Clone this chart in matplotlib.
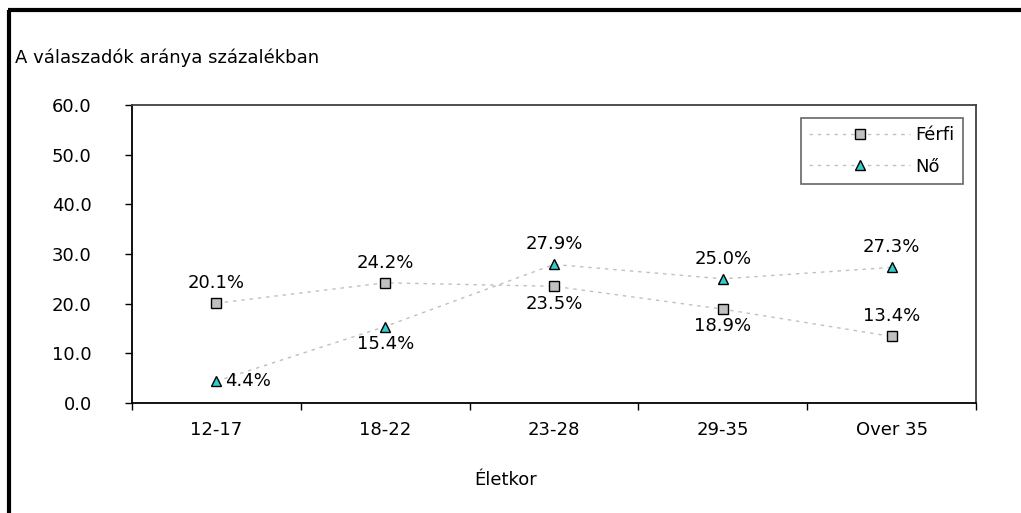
import matplotlib
matplotlib.use("Agg")
import matplotlib.pyplot as plt
from matplotlib.lines import Line2D

categories = ["12-17", "18-22", "23-28", "29-35", "Over 35"]
ferfi = [20.1, 24.2, 23.5, 18.9, 13.4]
no = [4.4, 15.4, 27.9, 25.0, 27.3]
yticks = [0, 10, 20, 30, 40, 50, 60]
ferfi_pos = ["above", "above", "below", "below", "above"]
no_pos = ["right", "below", "above", "above", "above"]

plt.rcParams['font.family'] = ['DejaVu Sans']
W, H = 1021, 513
fig = plt.figure(figsize=(W / 100, H / 100), dpi=100)
ax = fig.add_axes([132 / W, 1 - 403 / H, (976 - 132) / W, (403 - 105) / H])

x = list(range(len(categories)))
ax.plot(x, ferfi, linestyle=(0, (2.5, 3.5)), color="#c0c0c0", lw=1.0,
        marker="s", markersize=7, markerfacecolor="#c0c0c0",
        markeredgecolor="#000000", markeredgewidth=1.0, label="Férfi")
ax.plot(x, no, linestyle=(0, (2.5, 3.5)), color="#c0c0c0", lw=1.0,
        marker="^", markersize=7, markerfacecolor="#33cccc",
        markeredgecolor="#000000", markeredgewidth=1.0, label="Nő")

fs = 13
def annotate(xs, ys, poss):
    for xi, yi, p in zip(xs, ys, poss):
        txt = f"{yi:.1f}%"
        if p == "above":
            ax.annotate(txt, (xi, yi), xytext=(0, 8), textcoords="offset points",
                        ha="center", va="bottom", fontsize=fs)
        elif p == "below":
            ax.annotate(txt, (xi, yi), xytext=(0, -6), textcoords="offset points",
                        ha="center", va="top", fontsize=fs)
        else:
            ax.annotate(txt, (xi, yi), xytext=(6, 0), textcoords="offset points",
                        ha="left", va="center", fontsize=fs)

annotate(x, ferfi, ferfi_pos)
annotate(x, no, no_pos)

ax.set_xlim(-0.5, len(categories) - 0.5)
ax.set_ylim(0, 60)
ax.set_yticks(yticks)
ax.set_yticklabels([f"{v:.1f}" for v in yticks], fontsize=fs)
ax.set_xticks(x)
ax.set_xticklabels(categories, fontsize=fs)
ax.set_xticks([i - 0.5 for i in range(len(categories) + 1)], minor=True)
ax.tick_params(axis="x", which="major", length=0, pad=13)
ax.tick_params(axis="x", which="minor", length=5, width=1, direction="out")
ax.tick_params(axis="y", which="major", length=5, width=1, direction="out", pad=24)

for s in ["left", "bottom"]:
    ax.spines[s].set_color("black")
    ax.spines[s].set_linewidth(1.3)
for s in ["top", "right"]:
    ax.spines[s].set_color("#404040")
    ax.spines[s].set_linewidth(1.3)

leg = ax.legend(loc="upper right", bbox_to_anchor=((963 - 132) / (976 - 132), 1 - (118 - 105) / (403 - 105)),
                fontsize=fs, frameon=True, fancybox=False, edgecolor="#404040",
                borderpad=0.45, handlelength=5.6, labelspacing=0.75, handletextpad=0.3,
                borderaxespad=0)
leg.get_frame().set_linewidth(1.2)

fig.text(15 / W, 1 - 58 / H, "A válaszadók aránya százalékban", fontsize=fs,
         ha="left", va="center")
fig.text(506 / W, 1 - 480 / H, "Életkor", fontsize=fs, ha="center", va="center")

fig.add_artist(Line2D([9 / W, 9 / W], [0, 1 - 10 / H], transform=fig.transFigure,
                      color="black", lw=3, solid_capstyle="butt"))
fig.add_artist(Line2D([8 / W, 1], [1 - 10 / H, 1 - 10 / H], transform=fig.transFigure,
                      color="black", lw=3, solid_capstyle="butt"))

fig.savefig("out.png", dpi=100)
